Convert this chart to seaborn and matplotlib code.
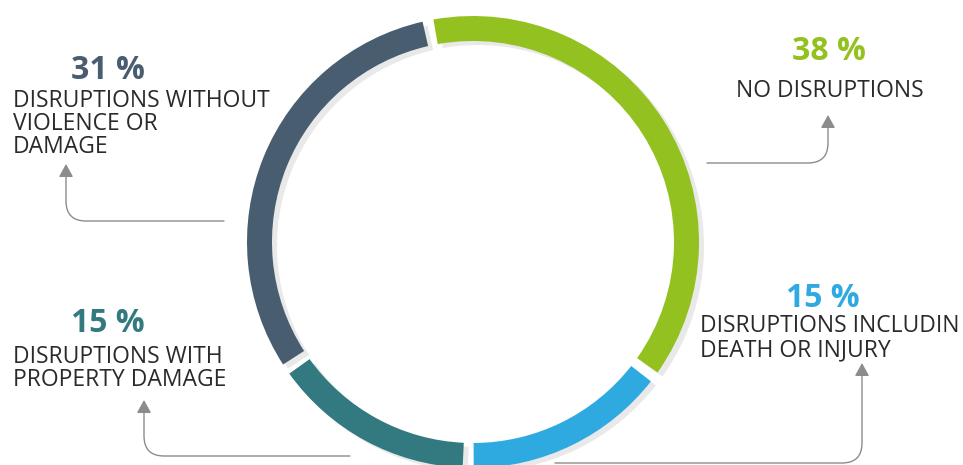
import matplotlib
matplotlib.use("Agg")
import matplotlib.pyplot as plt
import seaborn as sns

sns.set_theme(style="white")
plt.rcParams["font.family"] = ["Open Sans", "DejaVu Sans"]

# data
shares = [38, 15, 15, 31]
pct_labels = ["38 %", "15 %", "15 %", "31 %"]
desc_lines = [
    ["NO DISRUPTIONS"],
    ["DISRUPTIONS INCLUDIN", "DEATH OR INJURY"],
    ["DISRUPTIONS WITH", "PROPERTY DAMAGE"],
    ["DISRUPTIONS WITHOUT", "VIOLENCE OR", "DAMAGE"],
]
colors = ["#93c11f", "#2eaae1", "#327a80", "#485d70"]

W, H = 963, 465


def Y(y):
    # image rows (top-down) -> axis units (bottom-up)
    return H - y


fig = plt.figure(figsize=(W / 100, H / 100), dpi=100)
ax = fig.add_axes([0, 0, 1, 1])

cx, cy, r, ring = 473, 242, 226, 25
gap = 2.8

# soft shadow ring, then the coloured ring
for dx, dy, cols in [(5, 4, ["#e9e9e9"] * 4), (0, 0, colors)]:
    wedges, _ = ax.pie(shares, colors=cols, startangle=101.5, counterclock=False,
                       radius=r, center=(cx + dx, Y(cy + dy)),
                       wedgeprops=dict(width=ring, linewidth=0))
    for w in wedges:
        w.set_theta1(w.theta1 + gap / 2)
        w.set_theta2(w.theta2 - gap / 2)

# label layout: (pct x, pct baseline, text x, baselines)
layout = [
    (829, 60, 830, [97]),
    (823, 307, 700, [332, 356]),
    (108, 332, 13, [363, 386]),
    (108, 79, 13, [107, 130, 153]),
]
body_ha = ["center", "left", "left", "left"]

for i, (px, pb, tx, bases) in enumerate(layout):
    ax.text(px, Y(pb), pct_labels[i], ha="center", va="baseline", fontsize=23,
            fontweight="bold", color=colors[i])
    for line, b in zip(desc_lines[i], bases):
        ax.text(tx, Y(b), line, ha=body_ha[i], va="baseline", fontsize=16.5,
                fontweight="normal", color="#2a2a2a")

# connector arrows: (start, tip)
arrows = [
    ((707, 163), (828, 115)),
    ((555, 463), (862, 363)),
    ((350, 456), (144, 400)),
    ((224, 221), (66, 164)),
]
for (sx, sy), (ex, ey) in arrows:
    ax.annotate("", xy=(ex, Y(ey)), xytext=(sx, Y(sy)),
                arrowprops=dict(arrowstyle="-|>,head_length=0.56,head_width=0.31",
                                mutation_scale=14, color="#8c8c8c", lw=1.0,
                                shrinkA=0, shrinkB=0,
                                connectionstyle="angle,angleA=0,angleB=90,rad=20"))

ax.set_xlim(0, W)
ax.set_ylim(0, H)
ax.set_aspect("equal")
ax.axis("off")

fig.savefig("out.png", dpi=100, facecolor="white")
